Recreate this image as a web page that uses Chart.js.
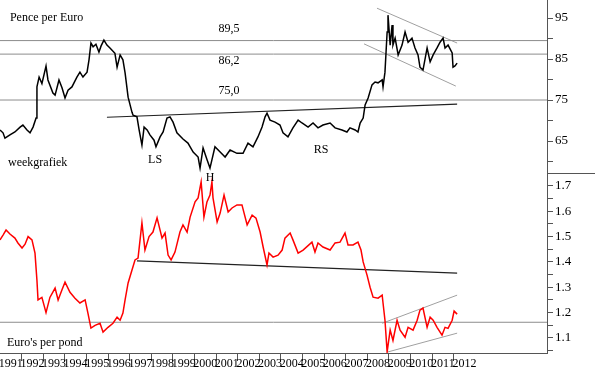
<!DOCTYPE html>
<html lang="nl">
<head>
    <meta charset="UTF-8">
    <meta name="viewport" content="width=device-width, initial-scale=1.0">
    <title>Pence per Euro</title>
    <script src="https://cdn.jsdelivr.net/npm/chart.js"></script>
    <style>
        body { margin: 0; background: #fff; }
        #wrap { position: relative; width: 595px; height: 372px; }
        canvas { position: absolute; left: 0; }
        #topChart { top: 0; }
        #bottomChart { top: 173px; }
    </style>
</head>

<body>
    <div id="wrap">
        <canvas id="topChart" width="595" height="173"></canvas>
        <canvas id="bottomChart" width="595" height="199"></canvas>
    </div>

    <script>
        // weekkoers pence per euro (bovenste grafiek)
        const weekYears = [
            1991.00, 1991.14, 1991.23, 1991.46, 1991.69, 1991.93, 1992.06, 1992.25, 1992.39, 1992.53,
            1992.67, 1992.71, 1992.81, 1992.94, 1993.13, 1993.22, 1993.45, 1993.55, 1993.73, 1993.87,
            1994.01, 1994.15, 1994.33, 1994.56, 1994.70, 1994.84, 1995.03, 1995.12, 1995.21, 1995.31,
            1995.44, 1995.58, 1995.68, 1995.81, 1995.95, 1996.09, 1996.32, 1996.42, 1996.56, 1996.69,
            1996.79, 1996.93, 1997.11, 1997.16, 1997.34, 1997.44, 1997.57, 1997.67, 1997.81, 1997.94,
            1998.13, 1998.22, 1998.41, 1998.55, 1998.73, 1998.87, 1999.01, 1999.19, 1999.47, 1999.70,
            1999.94, 2000.17, 2000.26, 2000.40, 2000.58, 2000.72, 2000.95, 2001.19, 2001.42, 2001.65,
            2001.97, 2002.25, 2002.48, 2002.71, 2002.94, 2003.13, 2003.27, 2003.36, 2003.50, 2003.73,
            2003.96, 2004.10, 2004.33, 2004.56, 2004.80, 2004.98, 2005.26, 2005.49, 2005.72, 2005.95,
            2006.28, 2006.51, 2006.83, 2007.06, 2007.20, 2007.44, 2007.57, 2007.67, 2007.81, 2007.90,
            2008.04, 2008.22, 2008.36, 2008.50, 2008.69, 2008.73, 2008.82, 2008.87, 2008.92, 2008.96,
            2009.06, 2009.15, 2009.19, 2009.29, 2009.43, 2009.61, 2009.75, 2009.89, 2010.07, 2010.21,
            2010.35, 2010.44, 2010.58, 2010.77, 2010.91, 2011.05, 2011.23, 2011.37, 2011.51, 2011.60,
            2011.74, 2011.93, 2011.97, 2012.06, 2012.16
        ];
        const pencePerEuro = [
            67.7, 67.0, 65.7, 66.5, 67.2, 68.4, 68.9, 67.7, 67.0, 68.4,
            70.6, 78.2, 80.6, 79.0, 83.3, 79.9, 76.7, 76.2, 79.9, 78.0,
            75.5, 77.4, 78.2, 80.6, 81.8, 80.6, 81.8, 84.8, 88.9, 88.0,
            88.6, 86.7, 88.2, 89.6, 88.4, 87.7, 86.4, 83.0, 86.0, 84.8,
            81.6, 75.7, 72.0, 71.3, 70.9, 67.7, 64.0, 68.4, 67.7, 66.5,
            65.2, 63.6, 66.0, 67.2, 70.6, 70.9, 69.6, 67.0, 65.5, 64.5,
            62.3, 61.1, 58.4, 63.3, 60.5, 58.4, 63.6, 62.3, 61.1, 62.8,
            62.0, 62.0, 64.5, 63.6, 66.0, 68.4, 70.9, 71.8, 70.1, 69.6,
            68.9, 67.0, 66.0, 68.2, 70.1, 69.4, 68.4, 69.4, 68.2, 68.9,
            69.4, 68.2, 67.7, 67.2, 68.2, 67.7, 67.2, 69.4, 70.6, 73.8,
            75.5, 78.7, 79.4, 79.2, 79.9, 78.2, 81.8, 86.7, 91.6, 95.7,
            88.4, 93.3, 88.4, 90.1, 86.0, 88.4, 91.6, 89.1, 90.1, 87.7,
            86.0, 83.0, 82.3, 87.7, 84.3, 86.0, 87.7, 89.1, 90.1, 87.7,
            88.4, 86.5, 83.0, 83.3, 84.0
        ];

        // euro's per pond (onderste grafiek)
        const pondYears = [
            1991.00, 1991.14, 1991.28, 1991.46, 1991.69, 1991.83, 1992.02, 1992.16, 1992.30, 1992.48,
            1992.62, 1992.71, 1992.76, 1992.94, 1993.13, 1993.31, 1993.55, 1993.69, 1993.87, 1994.01,
            1994.24, 1994.47, 1994.70, 1994.94, 1995.07, 1995.21, 1995.40, 1995.63, 1995.77, 1996.00,
            1996.23, 1996.42, 1996.56, 1996.69, 1996.79, 1996.93, 1997.11, 1997.25, 1997.39, 1997.57,
            1997.71, 1997.90, 1998.08, 1998.27, 1998.50, 1998.64, 1998.78, 1998.92, 1999.10, 1999.33,
            1999.47, 1999.66, 1999.80, 2000.03, 2000.17, 2000.31, 2000.44, 2000.58, 2000.72, 2000.81,
            2000.86, 2001.05, 2001.19, 2001.37, 2001.56, 2001.74, 2001.97, 2002.20, 2002.44, 2002.67,
            2002.85, 2003.04, 2003.18, 2003.36, 2003.45, 2003.64, 2003.87, 2004.06, 2004.19, 2004.43,
            2004.56, 2004.80, 2005.03, 2005.44, 2005.58, 2005.72, 2005.95, 2006.28, 2006.51, 2006.74,
            2006.97, 2007.11, 2007.34, 2007.57, 2007.71, 2007.81, 2007.99, 2008.13, 2008.27, 2008.50,
            2008.69, 2008.73, 2008.82, 2008.92, 2009.06, 2009.19, 2009.38, 2009.52, 2009.75, 2009.89,
            2010.12, 2010.31, 2010.44, 2010.58, 2010.77, 2010.91, 2011.05, 2011.23, 2011.46, 2011.60,
            2011.74, 2011.93, 2012.02, 2012.16
        ];
        const eurosPerPond = [
            1.487, 1.506, 1.526, 1.510, 1.494, 1.475, 1.455, 1.470, 1.500, 1.487,
            1.435, 1.328, 1.250, 1.260, 1.200, 1.260, 1.297, 1.250, 1.290, 1.320,
            1.280, 1.257, 1.238, 1.250, 1.198, 1.139, 1.150, 1.158, 1.123, 1.142,
            1.158, 1.182, 1.170, 1.198, 1.250, 1.317, 1.368, 1.408, 1.415, 1.554,
            1.447, 1.500, 1.518, 1.574, 1.494, 1.514, 1.427, 1.408, 1.439, 1.518,
            1.546, 1.518, 1.577, 1.637, 1.653, 1.716, 1.577, 1.637, 1.664, 1.716,
            1.653, 1.558, 1.593, 1.664, 1.597, 1.613, 1.625, 1.625, 1.546, 1.585,
            1.573, 1.518, 1.459, 1.388, 1.435, 1.419, 1.427, 1.447, 1.494, 1.514,
            1.487, 1.435, 1.447, 1.478, 1.439, 1.475, 1.459, 1.447, 1.475, 1.478,
            1.514, 1.467, 1.467, 1.478, 1.447, 1.400, 1.348, 1.300, 1.261, 1.257,
            1.269, 1.238, 1.170, 1.045, 1.131, 1.090, 1.170, 1.131, 1.103, 1.142,
            1.131, 1.170, 1.210, 1.218, 1.142, 1.182, 1.170, 1.142, 1.111, 1.142,
            1.138, 1.170, 1.206, 1.194
        ];

        const yearLabels = ['1991', '1992', '1993', '1994', '1995', '1996', '1997', '1998', '1999', '2000', '2001',
            '2002', '2003', '2004', '2005', '2006', '2007', '2008', '2009', '2010', '2011', '2012'];
        const penceTicks = [60, 65, 70, 75, 80, 85, 90, 95];
        const pondTicks = [1.05, 1.1, 1.15, 1.2, 1.25, 1.3, 1.35, 1.4, 1.45, 1.5, 1.55, 1.6, 1.65, 1.7];

        // steun/weerstand en trendlijnen
        const penceLevels = [89.5, 86.2, 75.0];
        const penceLevelLabels = ['89,5', '86,2', '75,0'];
        const necklineYears = [1995.95, 2012.16];
        const necklineValues = [70.8, 74.0];
        const channelHighYears = [2008.45, 2012.16];
        const channelHighValues = [97.4, 88.9];
        const channelLowYears = [2007.85, 2012.10];
        const channelLowValues = [88.7, 78.4];

        const pondLevel = 1.162;
        const pondTrendYears = [1997.34, 2012.16];
        const pondTrendValues = [1.404, 1.356];
        const pondChanHighYears = [2008.69, 2012.16];
        const pondChanHighValues = [1.158, 1.269];
        const pondChanLowYears = [2008.96, 2012.16];
        const pondChanLowValues = [1.045, 1.119];

        const X_MIN = 1991;
        const X_MAX = 2016.32;

        Chart.defaults.font.family = '"Liberation Serif", "Times New Roman", serif';
        Chart.defaults.font.size = 12;
        Chart.defaults.color = '#000';

        const toPoints = (xs, ys) => xs.map((x, i) => ({ x: x, y: ys[i] }));
        const flatLine = v => [{ x: X_MIN, y: v }, { x: X_MAX, y: v }];
        const lineSet = (data, color, width) => ({
            data: data, borderColor: color, borderWidth: width, pointRadius: 0, fill: false
        });

        // teksten op de grafiek, in schaalwaarden
        function notesPlugin(notes) {
            return {
                id: 'notes',
                afterDatasetsDraw(chart) {
                    const ctx = chart.ctx;
                    ctx.save();
                    ctx.font = '12px "Liberation Serif", "Times New Roman", serif';
                    ctx.fillStyle = '#000';
                    ctx.textBaseline = 'middle';
                    notes.forEach(n => {
                        ctx.textAlign = n.align || 'center';
                        ctx.fillText(n.text, chart.scales.x.getPixelForValue(n.x), chart.scales.y.getPixelForValue(n.y));
                    });
                    ctx.restore();
                }
            };
        }

        const baseOptions = {
            responsive: false,
            animation: false,
            devicePixelRatio: 1,
            layout: { padding: 0 },
            plugins: { legend: { display: false }, tooltip: { enabled: false } },
            elements: { line: { tension: 0 }, point: { radius: 0 } }
        };

        const topNotes = [
            { text: 'Pence per Euro', x: 1991.46, y: 95.0, align: 'left' },
            { text: penceLevelLabels[0], x: 2001.6, y: 92.3 },
            { text: penceLevelLabels[1], x: 2001.6, y: 84.5 },
            { text: penceLevelLabels[2], x: 2001.6, y: 77.2 },
            { text: 'weekgrafiek', x: 1991.37, y: 59.6, align: 'left' },
            { text: 'LS', x: 1998.18, y: 60.4 },
            { text: 'RS', x: 2005.86, y: 62.8 }
        ];

        new Chart(document.getElementById('topChart'), {
            type: 'line',
            data: {
                datasets: [
                    lineSet(toPoints(weekYears, pencePerEuro), '#000', 1.5),
                    lineSet(flatLine(penceLevels[0]), '#8c8c8c', 1),
                    lineSet(flatLine(penceLevels[1]), '#8c8c8c', 1),
                    lineSet(flatLine(penceLevels[2]), '#8c8c8c', 1),
                    lineSet(toPoints(necklineYears, necklineValues), '#222', 1.2),
                    lineSet(toPoints(channelHighYears, channelHighValues), '#a0a0a0', 1),
                    lineSet(toPoints(channelLowYears, channelLowValues), '#a0a0a0', 1)
                ]
            },
            options: {
                ...baseOptions,
                scales: {
                    x: { type: 'linear', min: X_MIN, max: X_MAX, display: false },
                    y: {
                        position: 'right',
                        min: 57.2,
                        max: 99.4,
                        afterBuildTicks: s => { s.ticks = penceTicks.map(v => ({ value: v })); },
                        afterFit: s => { s.width = 48; s.paddingTop = 0; s.paddingBottom = 0; },
                        ticks: {
                            callback: v => (v % 10 === 5 ? String(v) : ''),
                            autoSkip: false,
                            padding: 2,
                            font: { size: 13 }
                        },
                        grid: { drawOnChartArea: false, tickLength: 6, tickColor: '#555' },
                        border: { color: '#555' }
                    }
                }
            },
            plugins: [notesPlugin(topNotes)]
        });

        const bottomNotes = [
            { text: 'H', x: 2000.72, y: 1.732 },
            { text: "Euro's per pond", x: 1991.32, y: 1.08, align: 'left' }
        ];

        // lijn rechts boven het onderste paneel
        const panelEdge = {
            id: 'panelEdge',
            afterDraw(chart) {
                const ctx = chart.ctx;
                const a = chart.chartArea;
                ctx.save();
                ctx.strokeStyle = '#555';
                ctx.lineWidth = 1;
                ctx.beginPath();
                ctx.moveTo(a.right, a.top + 0.5);
                ctx.lineTo(chart.width, a.top + 0.5);
                ctx.stroke();
                ctx.restore();
            }
        };

        new Chart(document.getElementById('bottomChart'), {
            type: 'line',
            data: {
                datasets: [
                    lineSet(toPoints(pondYears, eurosPerPond), '#ff0000', 1.5),
                    lineSet(flatLine(pondLevel), '#8c8c8c', 1),
                    lineSet(toPoints(pondTrendYears, pondTrendValues), '#222', 1.2),
                    lineSet(toPoints(pondChanHighYears, pondChanHighValues), '#a0a0a0', 1),
                    lineSet(toPoints(pondChanLowYears, pondChanLowValues), '#a0a0a0', 1)
                ]
            },
            options: {
                ...baseOptions,
                scales: {
                    x: {
                        type: 'linear',
                        min: X_MIN,
                        max: X_MAX,
                        afterBuildTicks: s => { s.ticks = yearLabels.map(l => ({ value: Number(l) + 0.5 })); },
                        afterFit: s => { s.height = 19; s.paddingLeft = 0; s.paddingRight = 0; },
                        ticks: {
                            callback: (v, i) => yearLabels[i],
                            autoSkip: false,
                            maxRotation: 0,
                            minRotation: 0,
                            padding: -4
                        },
                        grid: {
                            drawOnChartArea: false,
                            offset: true,
                            tickLength: 8,
                            tickColor: c => (c.index === undefined ? 'rgba(0,0,0,0)' : '#555')
                        },
                        border: { color: '#555' }
                    },
                    y: {
                        position: 'right',
                        min: 1.0407,
                        max: 1.751,
                        afterBuildTicks: s => { s.ticks = pondTicks.map(v => ({ value: v })); },
                        afterFit: s => { s.width = 48; s.paddingTop = 0; s.paddingBottom = 0; },
                        ticks: {
                            callback: v => (Math.round(v * 100) % 10 === 0 ? v.toFixed(1) : ''),
                            autoSkip: false,
                            padding: 2,
                            font: { size: 13 }
                        },
                        grid: { drawOnChartArea: false, tickLength: 6, tickColor: '#555' },
                        border: { color: '#555' }
                    }
                }
            },
            plugins: [notesPlugin(bottomNotes), panelEdge]
        });
    </script>
</body>
</html>
